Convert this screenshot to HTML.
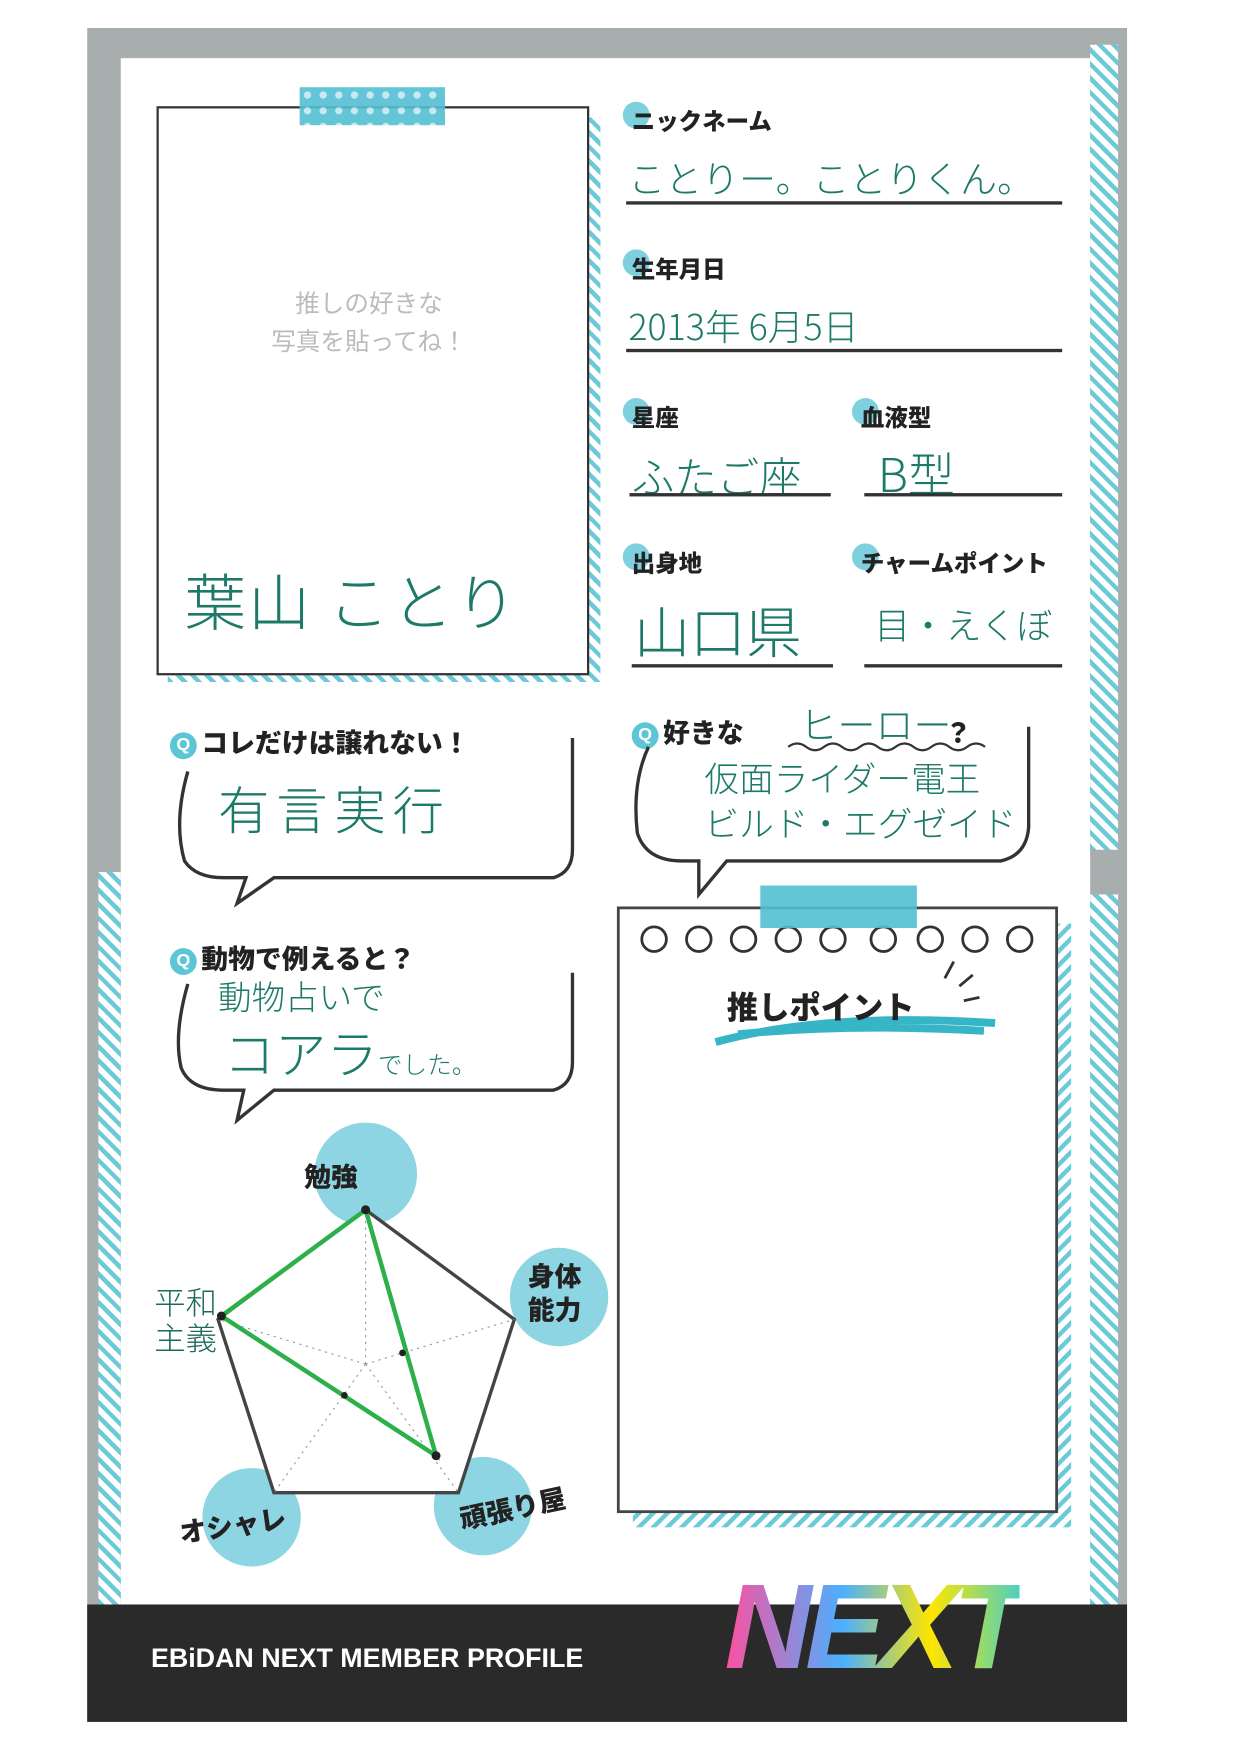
<!DOCTYPE html>
<html><head><meta charset="utf-8">
<style>
html,body{margin:0;padding:0;background:#fff;width:1240px;height:1754px;overflow:hidden}
#w{position:absolute;left:0;top:0;width:1109px;height:1568px;transform:scale(1.1181);transform-origin:0 0;font-family:"Liberation Sans","Noto Sans CJK JP",sans-serif}
.a{position:absolute}
.st{background:repeating-linear-gradient(45deg,#6cc9d8 0 4px,#fff 4px 9px)}
.lbl{position:absolute;font-weight:900;font-size:21px;color:#222;isolation:isolate;z-index:2}
.lbl:before{content:"";position:absolute;left:-8px;top:-2px;width:24px;height:24px;border-radius:50%;background:#7fd0de;z-index:-1}
.hw{position:absolute;color:#1d7a68;font-family:"Noto Sans CJK JP",sans-serif;font-weight:300;white-space:nowrap}
.ln{position:absolute;height:3px;background:#333}
.q{position:absolute;font-weight:900;font-size:24px;color:#222}
.qi{display:inline-block;width:24px;height:24px;border-radius:50%;background:#5cc6d6;color:#fff;font-size:16px;text-align:center;line-height:24px;margin-right:4px;vertical-align:2px}
</style></head><body><div id="w">
<div class="a" style="left:78px;top:25px;width:930px;height:1515px;background:#a8adad"></div>
<div class="a" style="left:108px;top:52px;width:867px;height:1383px;background:#fff"></div>
<div class="a st" style="left:975px;top:40px;width:25px;height:720px"></div>
<div class="a st" style="left:975px;top:800px;width:25px;height:635px"></div>
<div class="a st" style="left:88px;top:780px;width:20px;height:655px"></div>
<div class="a" style="left:78px;top:1435px;width:930px;height:105px;background:#2a2a2a"></div>
<div class="a" style="left:135px;top:1470px;color:#fff;font-weight:700;font-size:24px">EBiDAN NEXT MEMBER PROFILE</div>
<div class="a" style="left:648px;top:1392px;font-size:108px;font-weight:900;font-style:italic;letter-spacing:-6px;background:linear-gradient(90deg,#ff4fa0,#4bb0ff 40%,#ffe600 70%,#4bd0c0);-webkit-background-clip:text;background-clip:text;color:transparent">NEXT</div>

<div class="a st" style="left:150px;top:105px;width:387px;height:505px"></div>
<div class="a" style="left:140px;top:95px;width:383px;height:505px;border:2.5px solid #333;background:#fff"></div>
<div class="a" style="left:268px;top:78px;width:130px;height:34px;background:radial-gradient(circle,#bfe8ef 3px,#52bfd0 3.5px) 0 0/14px 14px;opacity:.9"></div>
<div class="a" style="left:225px;top:255px;width:210px;text-align:center;color:#bbb;font-size:22px;line-height:34px">推しの好きな<br>写真を貼ってね！</div>
<div class="hw" style="left:165px;top:495px;font-size:55px;letter-spacing:2px">葉山 ことり</div>

<div class="lbl" style="left:565px;top:93px">ニックネーム</div>
<div class="hw" style="left:562px;top:134px;font-size:33px">ことりー。ことりくん。</div>
<div class="ln" style="left:560px;top:180px;width:390px"></div>
<div class="lbl" style="left:565px;top:225px">生年月日</div>
<div class="hw" style="left:562px;top:268px;font-size:32px">2013年 6月5日</div>
<div class="ln" style="left:560px;top:312px;width:390px"></div>
<div class="lbl" style="left:565px;top:358px">星座</div>
<div class="lbl" style="left:770px;top:358px">血液型</div>
<div class="hw" style="left:565px;top:397px;font-size:38px">ふたご座</div>
<div class="hw" style="left:785px;top:392px;font-size:42px">B型</div>
<div class="ln" style="left:563px;top:441px;width:180px"></div>
<div class="ln" style="left:773px;top:441px;width:177px"></div>
<div class="lbl" style="left:565px;top:488px">出身地</div>
<div class="lbl" style="left:770px;top:488px">チャームポイント</div>
<div class="hw" style="left:567px;top:527px;font-size:50px">山口県</div>
<div class="hw" style="left:782px;top:535px;font-size:32px">目・えくぼ</div>
<div class="ln" style="left:565px;top:594px;width:180px"></div>
<div class="ln" style="left:773px;top:594px;width:177px"></div>

<div class="q" style="left:152px;top:645px"><span class="qi">Q</span>コレだけは譲れない！</div>
<div class="q" style="left:565px;top:636px"><span class="qi">Q</span>好きな<span style="display:inline-block;width:180px"></span>？</div>
<div class="hw" style="left:715px;top:622px;font-size:34px">ヒーロー</div>
<div class="q" style="left:152px;top:838px"><span class="qi">Q</span>動物で例えると？</div>
<svg class="a" style="left:0;top:0" width="1109" height="1568">
<defs><pattern id="sp" width="9" height="9" patternUnits="userSpaceOnUse" patternTransform="rotate(45)"><rect width="4" height="9" fill="#6cc9d8"/></pattern></defs>
<g fill="none" stroke="#333" stroke-width="3">
<path d="M168 690 Q155 735 165 770 Q175 785 200 785 L220 785 L212 808 L245 785 L495 785 Q512 780 512 760 L512 660"/>
<path d="M580 668 Q565 700 570 745 Q578 770 610 770 L625 770 L625 800 L650 770 L895 770 Q918 765 920 740 L920 650"/>
<path d="M168 880 Q155 925 162 955 Q170 975 200 975 L218 975 L212 1002 L245 975 L495 975 Q512 970 512 950 L512 870"/>
<path d="M705 668 q8 -6 16 0 t16 0 t16 0 t16 0 t16 0 t16 0 t16 0 t16 0 t16 0 t16 0 t16 0" stroke-width="2"/>
</g>
<circle cx="327" cy="1050" r="46" fill="#8dd5e2"/>
<circle cx="500" cy="1160" r="44" fill="#8dd5e2"/>
<circle cx="432" cy="1347" r="44" fill="#8dd5e2"/>
<circle cx="225" cy="1357" r="44" fill="#8dd5e2"/>
<polygon points="327,1082 460,1180 410,1335 245,1335 195,1180" fill="#fff" stroke="#444" stroke-width="3"/>
<g stroke="#999" stroke-width="1" stroke-dasharray="2,4" fill="none">
<line x1="327" y1="1220" x2="327" y2="1082"/><line x1="327" y1="1220" x2="460" y2="1180"/><line x1="327" y1="1220" x2="410" y2="1335"/><line x1="327" y1="1220" x2="245" y2="1335"/><line x1="327" y1="1220" x2="195" y2="1180"/>
</g>
<polygon points="327,1082 390,1302 198,1177" fill="none" stroke="#2db04a" stroke-width="4"/>
<circle cx="327" cy="1082" r="4" fill="#222"/><circle cx="390" cy="1302" r="4" fill="#222"/><circle cx="198" cy="1177" r="4" fill="#222"/><circle cx="360" cy="1210" r="3" fill="#222"/><circle cx="308" cy="1248" r="3" fill="#222"/>
<rect x="566" y="826" width="392" height="540" fill="url(#sp)"/>
<rect x="553" y="812" width="392" height="540" fill="#fff" stroke="#444" stroke-width="2.5"/>
<g fill="#fff" stroke="#333" stroke-width="2.5">
<circle cx="585" cy="840" r="11"/><circle cx="625" cy="840" r="11"/><circle cx="665" cy="840" r="11"/><circle cx="705" cy="840" r="11"/><circle cx="745" cy="840" r="11"/><circle cx="790" cy="840" r="11"/><circle cx="832" cy="840" r="11"/><circle cx="872" cy="840" r="11"/><circle cx="912" cy="840" r="11"/>
</g>
<rect x="680" y="792" width="140" height="38" fill="#52bfd0" opacity=".9"/>
<path d="M640 932 Q740 905 890 915 M660 925 Q760 915 880 922" stroke="#36b5c7" stroke-width="7" fill="none"/>
<path d="M845 875 l8 -15 M858 882 l12 -10 M862 895 l14 -3" stroke="#333" stroke-width="2.5"/>
</svg>
<div class="hw" style="left:195px;top:690px;font-size:46px;letter-spacing:6px">有言実行</div>
<div class="hw" style="left:630px;top:675px;font-size:31px;line-height:40px">仮面ライダー電王<br>ビルド・エグゼイド</div>
<div class="hw" style="left:195px;top:868px;font-size:30px">動物占いで</div>
<div class="hw" style="left:200px;top:908px;font-size:46px">コアラ<span style="font-size:22px">でした。</span></div>
<div class="a" style="left:650px;top:880px;font-weight:900;font-size:28px;color:#222">推しポイント</div>
<div class="q" style="left:272px;top:1033px">勉強</div>
<div class="q" style="left:472px;top:1128px;line-height:30px">身体<br>能力</div>
<div class="q" style="left:410px;top:1330px;transform:rotate(-12deg)">頑張り屋</div>
<div class="q" style="left:160px;top:1345px;transform:rotate(-8deg)">オシャレ</div>
<div class="hw" style="left:138px;top:1148px;font-size:28px;line-height:32px;color:#1d6a5a">平和<br>主義</div>
</div></body></html>
